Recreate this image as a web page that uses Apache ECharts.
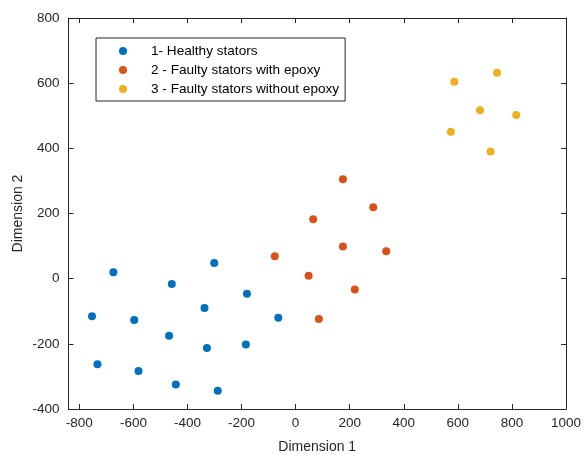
<!DOCTYPE html>
<html>
<head>
<meta charset="utf-8">
<script src="https://cdn.jsdelivr.net/npm/echarts@6/dist/echarts.min.js"></script>
<style>
  html, body { margin: 0; padding: 0; background: #fff; }
  #main { width: 585px; height: 455px; }
</style>
</head>
<body>
<div id="main"></div>
<script>
// 数据点 (Dimension 1, Dimension 2)
var healthy = [
  [-753, -115], [-674, 20], [-597, -127], [-458, -16], [-301, 48],
  [-337, -90], [-180, -46], [-468, -175], [-328, -213], [-184, -202],
  [-64, -120], [-733, -263], [-581, -283], [-443, -325], [-288, -344]
];
var withEpoxy = [
  [175, 305], [287, 219], [65, 182], [175, 99], [335, 84],
  [-77, 69], [48, 9], [219, -33], [86, -124]
];
var withoutEpoxy = [
  [587, 604], [745, 632], [682, 517], [816, 502], [574, 451], [721, 390]
];
var seriesNames = ['1- Healthy stators', '2 - Faulty stators with epoxy', '3 - Faulty stators without epoxy'];
var xTicks = [-800, -600, -400, -200, 0, 200, 400, 600, 800, 1000];
var yTicks = [-400, -200, 0, 200, 400, 600, 800];

var axisColor = '#262626';
var fontFamily = 'Liberation Sans, Arial, sans-serif';

var myChart = echarts.init(document.getElementById('main'));
var option = {
  animation: false,
  color: ['#0072BD', '#D95319', '#EDB120'],
  textStyle: { fontFamily: fontFamily },
  grid: { left: 68.5, right: 19, top: 18, bottom: 46, containLabel: false, outerBoundsMode: 'none' },
  legend: {
    orient: 'vertical',
    left: 96,
    top: 38,
    padding: [6, 6, 5, 23],
    itemGap: 5,
    itemWidth: 8,
    itemHeight: 8,
    icon: 'circle',
    borderColor: axisColor,
    borderWidth: 1,
    backgroundColor: '#fff',
    textStyle: { color: '#000', fontSize: 13.6, lineHeight: 14, padding: [0, 0, 0, 19], fontFamily: fontFamily },
    data: seriesNames
  },
  xAxis: [{
    type: 'value',
    min: -840,
    max: 1000,
    name: 'Dimension 1',
    nameLocation: 'middle',
    nameGap: 31,
    nameMoveOverlap: false,
    nameTextStyle: { color: '#262626', fontSize: 14, fontFamily: fontFamily },
    axisLine: { onZero: false, lineStyle: { color: axisColor, width: 1 } },
    axisTick: { inside: true, length: 5, customValues: xTicks, lineStyle: { color: axisColor } },
    axisLabel: {
      customValues: xTicks, color: '#262626', fontSize: 13.5, margin: 7, fontFamily: fontFamily,
      formatter: function (v) { return String(v); }
    },
    splitLine: { show: false }
  }, {
    type: 'value',
    position: 'top',
    min: -840,
    max: 1000,
    axisLine: { onZero: false, lineStyle: { color: axisColor, width: 1 } },
    axisTick: { inside: true, length: 5, customValues: xTicks, lineStyle: { color: axisColor } },
    axisLabel: { show: false },
    splitLine: { show: false }
  }],
  yAxis: [{
    type: 'value',
    min: -400,
    max: 800,
    interval: 200,
    name: 'Dimension 2',
    nameLocation: 'middle',
    nameGap: 43,
    nameMoveOverlap: false,
    nameTextStyle: { color: '#262626', fontSize: 14, fontFamily: fontFamily },
    axisLine: { show: true, onZero: false, lineStyle: { color: axisColor, width: 1 } },
    axisTick: { show: true, inside: true, length: 5, lineStyle: { color: axisColor } },
    axisLabel: { color: '#262626', fontSize: 13.5, margin: 9, fontFamily: fontFamily },
    splitLine: { show: false }
  }, {
    type: 'value',
    position: 'right',
    min: -400,
    max: 800,
    interval: 200,
    axisLine: { show: true, onZero: false, lineStyle: { color: axisColor, width: 1 } },
    axisTick: { show: true, inside: true, length: 5, lineStyle: { color: axisColor } },
    axisLabel: { show: false },
    splitLine: { show: false }
  }],
  series: [{
    name: seriesNames[0],
    type: 'scatter',
    symbolSize: 8,
    itemStyle: { opacity: 1 },
    data: healthy
  }, {
    name: seriesNames[1],
    type: 'scatter',
    symbolSize: 8,
    itemStyle: { opacity: 1 },
    data: withEpoxy
  }, {
    name: seriesNames[2],
    type: 'scatter',
    symbolSize: 8,
    itemStyle: { opacity: 1 },
    data: withoutEpoxy
  }]
};
myChart.setOption(option);
</script>
</body>
</html>
